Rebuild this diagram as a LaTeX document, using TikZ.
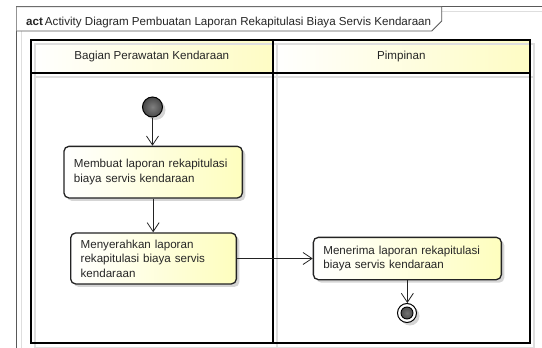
\documentclass[tikz,border=0pt]{standalone}
\usepackage{fontspec}
\setmainfont{Liberation Sans}
\usetikzlibrary{arrows.meta,shadows}
\definecolor{laneyellow}{RGB}{254,252,196}
\definecolor{boxyellow}{RGB}{254,254,190}
\definecolor{edgegray}{RGB}{35,35,35}
\begin{document}
\begin{tikzpicture}[x=1pt,y=-1pt,
  every node/.style={font=\fontsize{11.6}{14.5}\selectfont, text=black!85},
  frameline/.style={draw=black!65, line width=0.9pt},
  ghost/.style={draw=black!13, line width=1.6pt},
  lane/.style={draw=black, line width=1.8pt},
  lanehead/.style={left color=white, right color=laneyellow},
  softshadow/.style={drop shadow={shadow xshift=3pt, shadow yshift=-3pt, fill=black!30, opacity=.55}},
  action/.style={draw=edgegray, line width=1.3pt, rounded corners=5pt,
    left color=white, right color=boxyellow, align=left,
    inner xsep=10pt, inner ysep=0pt, anchor=north west, softshadow},
  startdot/.style={circle, draw=black, line width=1pt, minimum size=20pt, inner sep=0pt,
    inner color=black!50, outer color=black!72, softshadow},
  enddot/.style={circle, draw=black, line width=1pt, minimum size=19pt, inner sep=0pt,
    fill=white, softshadow,
    path picture={\draw[black, line width=0.9pt, inner color=black!55, outer color=black!78]
      (path picture bounding box.center) circle (6pt);}},
  flow/.style={draw=edgegray, line width=0.8pt, -{Straight Barb[length=9pt,width=12pt]}},
]
\useasboundingbox (0,0) rectangle (542,348);

% outer activity frame
\draw[frameline] (16.7,6.7) rectangle (600,400);
\draw[ghost, line width=1pt] (21,400) -- (21,11) -- (600,11);

% frame name tab
\draw[frameline, fill=white] (16.7,6.7) -- (441.7,6.7) -- (441.7,21) -- (431.7,31) -- (16.7,31);
\node[anchor=base west, inner sep=0pt] (title) at (26,26)
  {\textbf{act}\hspace{2pt}Activity Diagram Pembuatan Laporan Rekapitulasi Biaya Servis Kendaraan};

% swimlane headers
\shade[lanehead] (31,40) rectangle (272.7,72.7);
\shade[lanehead] (272.7,40) rectangle (530,72.7);

% swimlane shadow lines
\begin{scope}[shift={(4,4)}]
  \draw[ghost] (31,40) rectangle (530,343.3);
  \draw[ghost] (272.7,40) -- (272.7,343.3);
  \draw[ghost] (31,72.7) -- (530,72.7);
\end{scope}

% swimlanes
\draw[lane] (31,40) rectangle (530,343.3);
\draw[lane] (272.7,40) -- (272.7,343.3);
\draw[lane] (31,72.7) -- (530,72.7);

\node (lane1) at (151.8,57) {Bagian Perawatan Kendaraan};
\node (lane2) at (401.3,57) {Pimpinan};

% activity nodes
\node[startdot] (start) at (152.5,107) {};
\node[action, minimum width=178.4pt, minimum height=51.6pt, text width=158.4pt] (a1) at (63.3,145.7)
  {Membuat laporan rekapitulasi\\biaya servis kendaraan};
\node[action, minimum width=165.7pt, minimum height=51pt, text width=145.7pt, inner xsep=9.5pt] (a2) at (70,232.3)
  {Menyerahkan laporan\\rekapitulasi biaya servis\\kendaraan};
\node[action, minimum width=188pt, minimum height=42.3pt, text width=168pt] (a3) at (312.7,236.7)
  {Menerima laporan rekapitulasi\\biaya servis kendaraan};
\node[enddot] (finish) at (407,313) {};

% control flows
\draw[flow] (start) -- (start |- a1.north);
\draw[flow] (a1.south) -- (a1.south |- a2.north);
\draw[flow] (a2.east) -- (a3.west);
\draw[flow] (a3.south) -- (a3.south |- finish.north);
\end{tikzpicture}
\end{document}
